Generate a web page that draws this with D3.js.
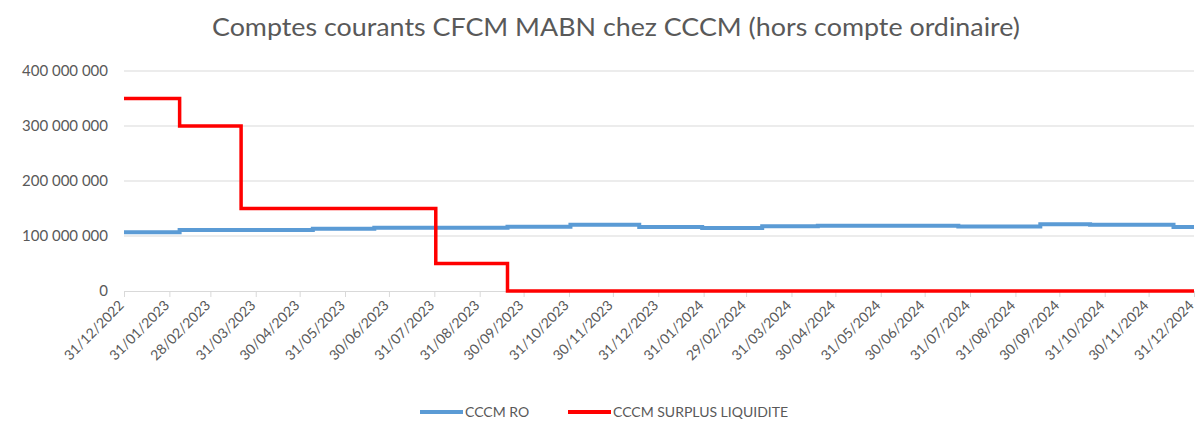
<!DOCTYPE html>
<html>
<head>
<meta charset="utf-8">
<script src="https://cdn.jsdelivr.net/npm/d3@7"></script>
<style>
  body { margin: 0; background: #fff; }
  text { font-family: Lato, "Open Sans", sans-serif; fill: #595959; }
</style>
</head>
<body>
<div id="chart"></div>
<script>
var width = 1198;
var height = 425;

var title = "Comptes courants CFCM MABN chez CCCM (hors compte ordinaire)";

// month end ticks
var tickLabels = ["31/12/2022", "31/01/2023", "28/02/2023", "31/03/2023", "30/04/2023", "31/05/2023",
    "30/06/2023", "31/07/2023", "31/08/2023", "30/09/2023", "31/10/2023", "30/11/2023", "31/12/2023",
    "31/01/2024", "29/02/2024", "31/03/2024", "30/04/2024", "31/05/2024", "30/06/2024", "31/07/2024",
    "31/08/2024", "30/09/2024", "31/10/2024", "30/11/2024", "31/12/2024"];
var yTicks = [0, 100000000, 200000000, 300000000, 400000000];

// CCCM RO : step dates and values
var roDates = ["31/12/2022", "07/02/2023", "09/05/2023", "20/06/2023", "19/09/2023", "01/11/2023",
    "18/12/2023", "30/01/2024", "11/03/2024", "18/04/2024", "23/07/2024", "17/09/2024", "21/10/2024",
    "17/12/2024", "31/12/2024"];
var roValues = [106700000, 111000000, 113300000, 115000000, 117000000, 120500000,
    116400000, 114500000, 117600000, 118500000, 117200000, 121300000, 120500000,
    116400000, 116400000];

// CCCM SURPLUS LIQUIDITE
var surplusDates = ["31/12/2022", "07/02/2023", "21/03/2023", "01/08/2023", "19/09/2023", "31/12/2024"];
var surplusValues = [350000000, 300000000, 150000000, 50000000, 0, 0];

var seriesNames = ["CCCM RO", "CCCM SURPLUS LIQUIDITE"];
var seriesColors = ["#5b9bd5", "#ff0000"];

var parseDate = d3.utcParse("%d/%m/%Y");

var margin = {left: 124, right: 4, top: 71, bottom: 134};

var svg = d3.select("#chart").append("svg")
    .attr("width", width)
    .attr("height", height);

var x = d3.scaleUtc()
    .domain([parseDate(tickLabels[0]), parseDate(tickLabels[tickLabels.length - 1])])
    .range([margin.left, width - margin.right]);
var y = d3.scaleLinear()
    .domain([0, 400000000])
    .range([height - margin.bottom, margin.top]);

// title
var t = svg.append("text")
    .attr("x", 616).attr("y", 36)
    .attr("text-anchor", "middle")
    .style("font-size", "25px")
    .text(title);
if (t.node().getComputedTextLength() > 0) t.attr("textLength", 808).attr("lengthAdjust", "spacingAndGlyphs");

// gridlines
svg.append("g").selectAll("line")
    .data(yTicks.slice(1)).enter().append("line")
    .attr("x1", margin.left).attr("x2", width - margin.right)
    .attr("y1", d => y(d)).attr("y2", d => y(d))
    .style("stroke", "#d9d9d9").style("stroke-width", "1px");

// y labels
var fmt = d => d === 0 ? "0" : d3.format(",")(d).replace(/,/g, " ");
svg.append("g").selectAll("text")
    .data(yTicks).enter().append("text")
    .attr("x", 108).attr("y", d => y(d) + 5)
    .attr("text-anchor", "end")
    .style("font-size", "15px")
    .text(fmt);

// x axis
var xAxis = d3.axisBottom(x)
    .tickValues(tickLabels.map(parseDate))
    .tickSize(6)
    .tickFormat(d3.utcFormat("%d/%m/%Y"));
var gx = svg.append("g")
    .attr("transform", "translate(0," + y(0) + ")")
    .call(xAxis);
gx.select(".domain").style("stroke", "#d9d9d9");
gx.selectAll(".tick line").style("stroke", "#d9d9d9");
gx.selectAll(".tick text")
    .style("font-size", "14px")
    .style("font-family", "Lato, sans-serif")
    .attr("fill", "#595959")
    .attr("text-anchor", "end")
    .attr("dx", "0").attr("dy", "0")
    .attr("transform", "translate(-6,9) rotate(-45)");

// lines
var line = d3.line()
    .x(d => x(d[0]))
    .y(d => y(d[1]))
    .curve(d3.curveStepAfter);

var roData = roDates.map((d, i) => [parseDate(d), roValues[i]]);
var surplusData = surplusDates.map((d, i) => [parseDate(d), surplusValues[i]]);

svg.append("path")
    .datum(roData)
    .attr("d", line)
    .style("fill", "none").style("stroke", seriesColors[0]).style("stroke-width", "4px");
svg.append("path")
    .datum(surplusData)
    .attr("d", line)
    .style("fill", "none").style("stroke", seriesColors[1]).style("stroke-width", "3.5px");

// legend
var legendX = [420, 568];
var legend = svg.append("g").selectAll("g")
    .data(seriesNames).enter().append("g")
    .attr("transform", (d, i) => "translate(" + legendX[i] + ",412)");
legend.append("line")
    .attr("x1", 0).attr("x2", 43).attr("y1", 0).attr("y2", 0)
    .style("stroke", (d, i) => seriesColors[i]).style("stroke-width", "4px");
legend.append("text")
    .attr("x", 45).attr("y", 5)
    .style("font-size", "14px")
    .text(d => d);
</script>
</body>
</html>
